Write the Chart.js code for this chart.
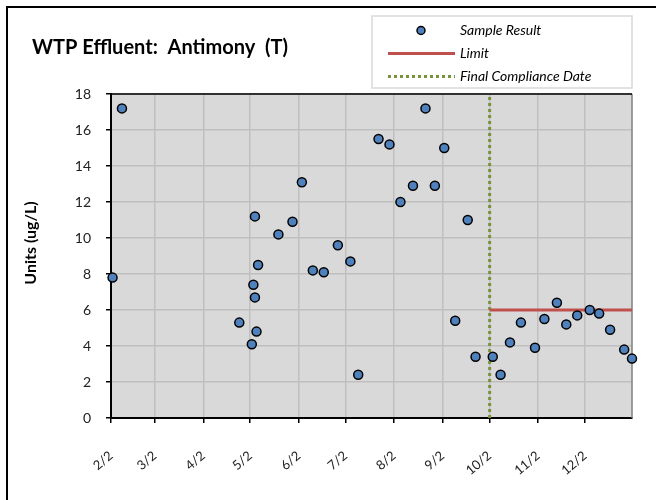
<!DOCTYPE html>
<html>
<head>
<meta charset="utf-8">
<script src="https://cdn.jsdelivr.net/npm/chart.js@4/dist/chart.umd.min.js"></script>
<style>
  html, body { margin: 0; padding: 0; background: #ffffff; }
  #wrap { width: 656px; height: 500px; }
</style>
</head>
<body>
<div id="wrap"><canvas id="c" width="656" height="500"></canvas></div>
<script>
// ---------- data ----------
const chartTitle = "WTP Effluent:  Antimony  (T)";
const yAxisTitle = "Units (ug/L)";
const axisStart = "2015-02-02";
const axisEnd = "2016-01-01";
const xTickDates = ["2015-02-02","2015-03-02","2015-04-02","2015-05-02","2015-06-02","2015-07-02",
                    "2015-08-02","2015-09-02","2015-10-02","2015-11-02","2015-12-02"];
const xTickLabels = ["2/2","3/2","4/2","5/2","6/2","7/2","8/2","9/2","10/2","11/2","12/2"];
const yTicks = [0, 2, 4, 6, 8, 10, 12, 14, 16, 18];

const sampleDates = [
  "2015-02-03","2015-02-09","2015-04-25","2015-05-03","2015-05-04","2015-05-05","2015-05-05",
  "2015-05-06","2015-05-07","2015-05-20","2015-05-29","2015-06-04","2015-06-11","2015-06-18",
  "2015-06-27","2015-07-05","2015-07-10","2015-07-23","2015-07-30","2015-08-06","2015-08-14",
  "2015-08-22","2015-08-28","2015-09-03","2015-09-10","2015-09-18","2015-09-23","2015-10-04",
  "2015-10-09","2015-10-15","2015-10-22","2015-10-31","2015-11-06","2015-11-14","2015-11-20",
  "2015-11-27","2015-12-05","2015-12-11","2015-12-18","2015-12-27","2016-01-01"];
const sampleValues = [
  7.8, 17.2, 5.3, 4.1, 7.4, 11.2, 6.7,
  4.8, 8.5, 10.2, 10.9, 13.1, 8.2, 8.1,
  9.6, 8.7, 2.4, 15.5, 15.2, 12.0, 12.9,
  17.2, 12.9, 15.0, 5.4, 11.0, 3.4, 3.4,
  2.4, 4.2, 5.3, 3.9, 5.5, 6.4, 5.2,
  5.7, 6.0, 5.8, 4.9, 3.8, 3.3];

const limitDates = ["2015-10-02", "2016-01-01"];
const limitValues = [6, 6];

const complianceDates = ["2015-10-02", "2015-10-02"];
const complianceValues = [0, 18];

// ---------- helpers ----------
const DAY = 86400000;
function dayNum(iso) {
  const p = iso.split("-").map(Number);
  const s = axisStart.split("-").map(Number);
  return Math.round((Date.UTC(p[0], p[1]-1, p[2]) - Date.UTC(s[0], s[1]-1, s[2])) / DAY);
}
function pts(dates, vals) { return dates.map((d, i) => ({ x: dayNum(d), y: vals[i] })); }
const tickDays = xTickDates.map(dayNum);

const FONT = "Lato, 'Open Sans', sans-serif";

const colors = {
  sample: "#4f81bd",
  limit: "#c0504d",
  compliance: "#77933c",
  plotBg: "#d9d9d9",
  grid: "#bfbfbf"
};

// ---------- plugins ----------
const framePlugin = {
  id: "frame",
  beforeDraw(chart) {
    const ctx = chart.ctx, a = chart.chartArea;
    ctx.save();
    ctx.fillStyle = "#ffffff";
    ctx.fillRect(0, 0, chart.width, chart.height);
    ctx.strokeStyle = "#000";
    ctx.lineWidth = 2;
    ctx.beginPath();
    ctx.moveTo(7, chart.height + 2);
    ctx.lineTo(7, 7);
    ctx.lineTo(chart.width + 2, 7);
    ctx.stroke();
    ctx.fillStyle = colors.plotBg;
    ctx.fillRect(a.left, a.top, a.right - a.left, a.bottom - a.top);
    ctx.restore();
  },
  beforeDatasetsDraw(chart) {
    const ctx = chart.ctx, a = chart.chartArea;
    ctx.save();
    ctx.lineWidth = 1.5;
    ctx.strokeStyle = "#7f7f7f";
    ctx.beginPath();
    ctx.moveTo(a.right, a.top);
    ctx.lineTo(a.right, a.bottom);
    ctx.stroke();
    ctx.strokeStyle = "#000";
    ctx.lineWidth = 1.5;
    ctx.beginPath();
    ctx.moveTo(a.left, a.top);
    ctx.lineTo(a.right, a.top);
    ctx.stroke();
    ctx.restore();
  },
  afterDraw(chart) {
    const ctx = chart.ctx;
    ctx.save();
    ctx.translate(31, 243);
    ctx.rotate(-Math.PI / 2);
    ctx.fillStyle = "#000";
    ctx.font = "bold 16px " + FONT;
    ctx.textAlign = "center";
    ctx.textBaseline = "middle";
    ctx.fillText(yAxisTitle, 0, 0);
    ctx.restore();

    const ds = chart.data.datasets;
    const bx = 372, by = 16, bw = 260, bh = 72;
    ctx.save();
    ctx.fillStyle = "#ffffff";
    ctx.fillRect(bx, by, bw, bh);
    ctx.strokeStyle = "#d9d9d9";
    ctx.lineWidth = 1.5;
    ctx.strokeRect(bx, by, bw, bh);
    const rows = [30.5, 53.5, 76.5];
    const x0 = 388, x1 = 455, tx = 460;
    ctx.font = "italic 14px " + FONT;
    ctx.textAlign = "left";
    ctx.textBaseline = "middle";
    ds.forEach((d, i) => {
      const y = rows[i];
      if (i === 0) {
        ctx.beginPath();
        ctx.arc(421, y, 4, 0, Math.PI * 2);
        ctx.fillStyle = d.backgroundColor;
        ctx.fill();
        ctx.lineWidth = d.borderWidth;
        ctx.strokeStyle = d.borderColor;
        ctx.stroke();
      } else {
        ctx.beginPath();
        ctx.setLineDash(d.borderDash || []);
        ctx.lineWidth = d.borderWidth;
        ctx.strokeStyle = d.borderColor;
        ctx.moveTo(x0, y);
        ctx.lineTo(x1, y);
        ctx.stroke();
        ctx.setLineDash([]);
      }
      ctx.fillStyle = "#000";
      ctx.fillText(d.label, tx, y);
    });
    ctx.restore();
  }
};

// ---------- chart ----------
new Chart(document.getElementById("c"), {
  type: "scatter",
  data: {
    datasets: [
      {
        label: "Sample Result",
        data: pts(sampleDates, sampleValues),
        backgroundColor: colors.sample,
        borderColor: "#000",
        borderWidth: 1.5,
        pointRadius: 4.5,
        showLine: false,
        clip: false,
        order: 0
      },
      {
        label: "Limit",
        data: pts(limitDates, limitValues),
        showLine: true,
        borderColor: colors.limit,
        backgroundColor: colors.limit,
        borderWidth: 3,
        pointRadius: 0,
        clip: false,
        order: 1
      },
      {
        label: "Final Compliance Date",
        data: pts(complianceDates, complianceValues),
        showLine: true,
        borderColor: colors.compliance,
        backgroundColor: colors.compliance,
        borderWidth: 3,
        borderDash: [3, 3],
        pointRadius: 0,
        clip: false,
        order: 2
      }
    ]
  },
  options: {
    responsive: false,
    devicePixelRatio: 1,
    animation: false,
    layout: { padding: { left: 32, right: 24, top: 0, bottom: 0 } },
    plugins: {
      legend: { display: false },
      tooltip: { enabled: false },
      title: {
        display: true,
        text: chartTitle,
        align: "start",
        color: "#000",
        font: { family: FONT, size: 20, weight: "bold", lineHeight: "22px" },
        padding: { top: 37, bottom: 35 }
      }
    },
    scales: {
      x: {
        type: "linear",
        min: dayNum(axisStart),
        max: dayNum(axisEnd),
        afterBuildTicks(scale) {
          scale.ticks = tickDays.map(v => ({ value: v }));
        },
        afterFit(scale) { scale.height = 82; },
        ticks: {
          autoSkip: false,
          minRotation: 40,
          maxRotation: 40,
          padding: 25,
          color: "#222",
          font: { family: FONT, size: 13 },
          callback(value) {
            const i = tickDays.indexOf(value);
            return i >= 0 ? xTickLabels[i] : "";
          }
        },
        grid: {
          color: colors.grid,
          lineWidth: 1.5,
          tickColor: "#000",
          tickLength: 5,
          tickWidth: 1.5
        },
        border: { color: "#000", width: 2 }
      },
      y: {
        min: 0,
        max: 18,
        afterBuildTicks(scale) {
          scale.ticks = yTicks.map(v => ({ value: v }));
        },
        afterFit(scale) { scale.width = 79; },
        ticks: {
          padding: 15,
          color: "#222",
          font: { family: FONT, size: 14 }
        },
        grid: {
          color: colors.grid,
          lineWidth: 1.5,
          tickColor: "#000",
          tickLength: 5,
          tickWidth: 1.5
        },
        border: { color: "#000", width: 2 }
      }
    }
  },
  plugins: [framePlugin]
});
</script>
</body>
</html>
